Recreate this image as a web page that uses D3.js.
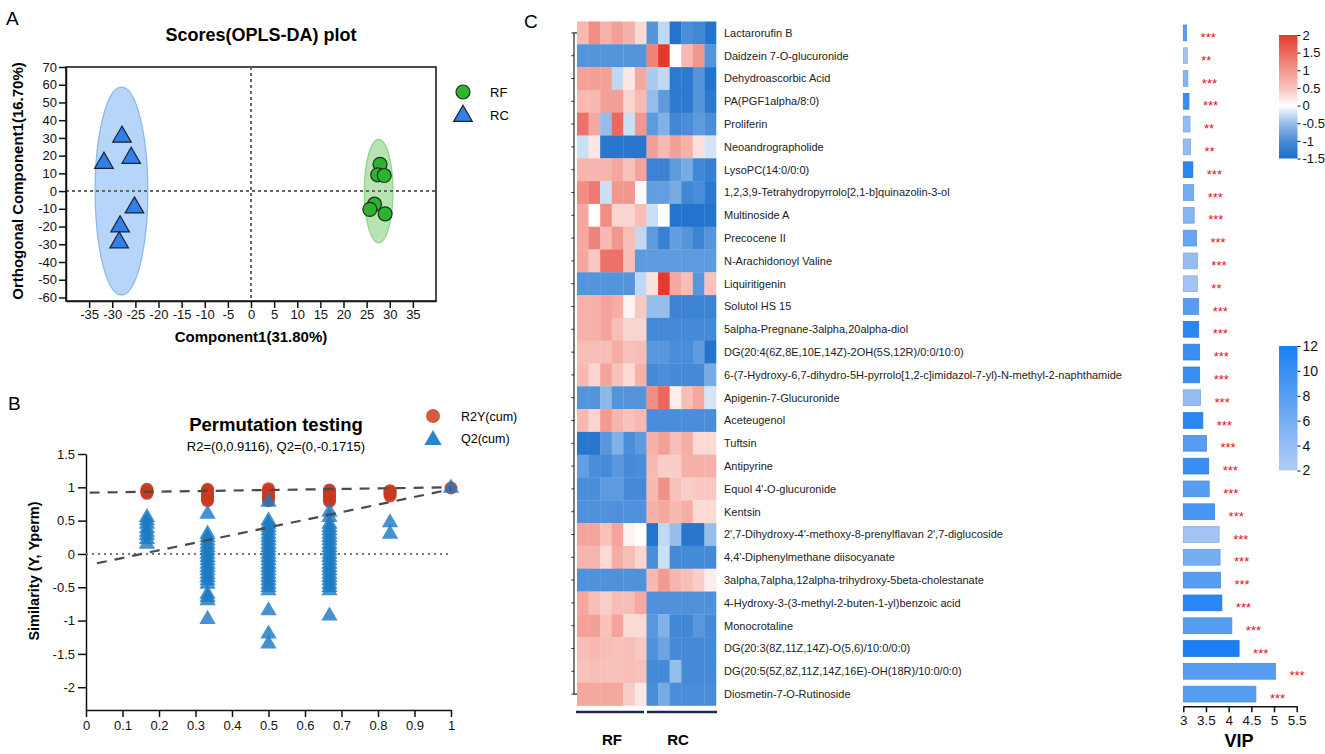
<!DOCTYPE html>
<html><head><meta charset="utf-8">
<script src="https://cdn.jsdelivr.net/npm/d3@7"></script>
<style>body{margin:0;background:#fff} svg{font-family:Arial,'Liberation Sans',sans-serif}</style>
</head><body><svg id="c" width="1325" height="754"></svg>
<script>
// ---------- Panel A data (OPLS-DA scores) ----------
const groupNames = ["RF", "RC"];
const rfX = [27.9, 27.4, 28.8, 26.7, 25.7, 29.0];
const rfY = [15.1, 9.2, 8.8, -7.4, -10.3, -12.8];
const rcX = [-27.9, -25.9, -31.8, -25.2, -28.3, -28.5];
const rcY = [30.6, 18.7, 15.9, -9.3, -20.0, -29.0];
const rfEllipse = [27.6, 0, 3.1, 29.2];   // cx, cy, rx, ry (data units)
const rcEllipse = [-28.0, 0, 5.7, 58.6];
const xTicksA = [-35, -30, -25, -20, -15, -10, -5, 0, 5, 10, 15, 20, 25, 30, 35];
const yTicksA = [70, 60, 50, 40, 30, 20, 10, 0, -10, -20, -30, -40, -50, -60];

// ---------- Panel B data (permutation test) ----------
const permX = [0.167, 0.333, 0.5, 0.667, 0.833, 1];
const r2yPerm = [
  [0.91, 0.93, 0.95, 0.97],
  [0.80, 0.83, 0.86, 0.89, 0.92, 0.95, 0.97],
  [0.80, 0.84, 0.88, 0.92, 0.95, 0.98],
  [0.79, 0.82, 0.85, 0.88, 0.91, 0.94, 0.96],
  [0.87, 0.90, 0.93, 0.95],
  [0.99]
];
const q2Perm = [
  [0.55, 0.50, 0.45, 0.38, 0.33, 0.28, 0.22, 0.15],
  [0.60, 0.30, 0.25, 0.20, 0.15, 0.10, 0.05, 0.00, -0.05, -0.10, -0.15, -0.20, -0.25, -0.30, -0.35, -0.40, -0.45, -0.60, -0.65, -0.70, -0.98],
  [0.78, 0.50, 0.45, 0.40, 0.35, 0.30, 0.25, 0.20, 0.15, 0.10, 0.05, 0.00, -0.05, -0.10, -0.15, -0.20, -0.25, -0.30, -0.35, -0.40, -0.45, -0.50, -0.55, -0.85, -1.20, -1.35],
  [0.63, 0.55, 0.45, 0.40, 0.35, 0.30, 0.25, 0.20, 0.15, 0.10, 0.05, 0.00, -0.05, -0.10, -0.15, -0.20, -0.25, -0.30, -0.35, -0.40, -0.45, -0.50, -0.55, -0.93],
  [0.47, 0.30],
  [0.99]
];
const r2Line = [[0.01, 0.92], [1, 1.0]];
const q2Line = [[0.03, -0.14], [1, 0.97]];
const xTicksB = [0, 0.1, 0.2, 0.3, 0.4, 0.5, 0.6, 0.7, 0.8, 0.9, 1];
const yTicksB = [1.5, 1, 0.5, 0, -0.5, -1, -1.5, -2];

// ---------- Panel C data (heatmap + VIP) ----------
const metabolites = [
  "Lactarorufin B", "Daidzein 7-O-glucuronide", "Dehydroascorbic Acid", "PA(PGF1alpha/8:0)",
  "Proliferin", "Neoandrographolide", "LysoPC(14:0/0:0)",
  "1,2,3,9-Tetrahydropyrrolo[2,1-b]quinazolin-3-ol", "Multinoside A", "Precocene II",
  "N-Arachidonoyl Valine", "Liquiritigenin", "Solutol HS 15", "5alpha-Pregnane-3alpha,20alpha-diol",
  "DG(20:4(6Z,8E,10E,14Z)-2OH(5S,12R)/0:0/10:0)",
  "6-(7-Hydroxy-6,7-dihydro-5H-pyrrolo[1,2-c]imidazol-7-yl)-N-methyl-2-naphthamide",
  "Apigenin-7-Glucuronide", "Aceteugenol", "Tuftsin", "Antipyrine", "Equol 4'-O-glucuronide",
  "Kentsin", "2',7-Dihydroxy-4'-methoxy-8-prenylflavan 2',7-diglucoside",
  "4,4'-Diphenylmethane diisocyanate", "3alpha,7alpha,12alpha-trihydroxy-5beta-cholestanate",
  "4-Hydroxy-3-(3-methyl-2-buten-1-yl)benzoic acid", "Monocrotaline",
  "DG(20:3(8Z,11Z,14Z)-O(5,6)/10:0/0:0)", "DG(20:5(5Z,8Z,11Z,14Z,16E)-OH(18R)/10:0/0:0)",
  "Diosmetin-7-O-Rutinoside"
];
const samples = ["RF1","RF2","RF3","RF4","RF5","RF6","RC1","RC2","RC3","RC4","RC5","RC6"];
const heatValues = [
  [0.6,1.1,0.7,0.9,0.7,0.3,-0.9,-0.3,-1.4,-1.0,-1.1,-1.4],
  [-0.9,-0.9,-0.9,-0.9,-0.9,-0.9,1.2,2.0,0,0.6,1.0,-0.9],
  [0.9,0.9,0.9,-0.3,0.2,0.8,-0.4,-0.3,-1.3,-1.3,-0.9,-1.4],
  [0.6,0.6,0.9,0.9,0.35,0.6,-0.5,-0.8,-1.3,-1.3,-0.9,-1.3],
  [1.4,0.8,-0.5,1.5,-0.25,1.0,-0.8,-0.6,-1.1,-1.0,-0.8,-1.0],
  [-0.25,0.2,-1.35,-1.35,-1.35,-1.35,0.9,0.6,0.9,0.7,0.25,-0.2],
  [0.65,0.65,0.65,0.8,0.5,0.85,-1.15,-1.15,-0.8,-0.65,-1.1,-1.2],
  [1.1,1.3,-0.25,1.0,1.0,0.05,-0.75,-0.75,-0.65,-1.1,-1.0,-1.3],
  [0.8,0,1.1,0.35,0.35,0.55,-0.25,0,-1.4,-1.4,-1.4,-1.4],
  [0.8,1.2,0.6,1.0,0.55,-0.3,-0.8,-1.2,-0.75,-0.9,-1.15,-0.9],
  [0.8,0.45,1.4,1.4,0.55,-0.8,-0.8,-0.8,-0.8,-0.8,-0.8,-0.8],
  [-0.9,-0.9,-0.9,-0.9,-0.9,-0.3,0.25,2.0,0.8,0.55,-0.85,0.5],
  [0.7,0.7,0.85,0.75,0.1,0.45,-0.5,-0.5,-1.15,-1.15,-1.15,-1.15],
  [0.7,0.7,0.85,0.55,0.35,0.35,-1.05,-1.05,-1.05,-1.05,-1.05,-1.05],
  [0.55,0.55,0.55,0.75,0.5,0.55,-0.85,-0.85,-1.0,-1.0,-0.8,-1.4],
  [0.6,0.35,0.85,0.5,0.3,0.7,-1.05,-1.0,-1.05,-1.05,-1.05,-0.65],
  [-0.9,-0.9,-0.55,-0.9,-0.9,-0.9,1.1,1.5,0.15,0.55,0.8,-0.2],
  [0.6,0.35,0.95,0.65,0.5,0.6,-1.0,-1.0,-1.0,-1.0,-1.0,-1.0],
  [-1.35,-1.35,-0.85,-0.6,-1.0,-0.8,0.7,0.9,0.55,0.75,0.3,0.3],
  [-0.75,-1.0,-1.05,-0.85,-1.05,-1.0,0.6,0.4,0.4,0.7,0.7,0.7],
  [-1.0,-1.0,-0.8,-0.8,-1.05,-1.05,0.6,1.05,0.5,0.4,0.45,0.45],
  [-0.95,-0.95,-0.95,-0.95,-0.95,-0.95,0.7,0.8,0.6,0.75,0.3,0.3],
  [0.85,0.85,0.5,0.85,0.1,0,-1.4,-0.3,-0.5,-1.35,-1.35,-0.5],
  [0.65,0.65,0.3,0.75,0.55,0.35,-1.0,-0.25,-1.05,-1.05,-1.05,-1.05],
  [-0.95,-0.95,-0.95,-0.95,-0.95,-0.95,0.6,0.95,0.65,0.55,0.4,0.15],
  [0.8,0.55,0.4,0.55,0.55,0.8,-0.95,-0.95,-0.95,-0.95,-0.95,-0.95],
  [0.9,0.9,0.5,0.85,0.3,0.3,-0.85,-0.6,-1.1,-1.1,-0.85,-1.05],
  [0.55,0.6,0.55,0.5,0.55,0.45,-0.95,-0.7,-1.05,-1.05,-1.05,-1.05],
  [0.5,0.55,0.5,0.5,0.55,0.5,-1.05,-1.05,-0.5,-1.05,-1.05,-1.05],
  [0.8,0.8,0.8,0.8,0.4,0.2,-1.0,-0.65,-1.0,-1.0,-1.0,-1.0]
];
const vipValues = [3.073,3.088,3.10,3.125,3.147,3.16,3.21,3.23,3.24,3.29,3.31,3.31,3.34,3.34,3.36,3.36,
  3.38,3.43,3.51,3.56,3.57,3.69,3.79,3.81,3.82,3.85,4.07,4.23,5.03,4.60];
const vipColorValues = [8,3,5,10,4,4,11,6,5,7,4,3,8,11,10,10,4,11,8,10,8,9,3,6,8,11,8,12,8,8];
const significance = ["***","**","***","***","**","**","***","***","***","***","***","**",
  "***","***","***","***","***","***","***","***","***","***","***","***","***","***","***","***","***","***"];
const vipTicks = [3, 3.5, 4, 4.5, 5, 5.5];
const heatLegendTicks = [2, 1.5, 1, 0.5, 0, -0.5, -1, -1.5];
const vipLegendTicks = [12, 10, 8, 6, 4, 2];

// ---------- drawing ----------
const svg = d3.select("#c");
const FONT = "Arial,'Liberation Sans',sans-serif";
function styleAxis(g, fs) {
  g.selectAll("path,line").attr("stroke", "#111").attr("stroke-width", 1.5);
  g.selectAll("text").attr("font-size", fs).attr("fill", "#111").attr("font-family", FONT);
}
const tri = s => d3.symbol(d3.symbolTriangle, s)();
const plain = d => String(d);

// Panel letters
svg.append("text").attr("x", 6).attr("y", 25).attr("font-size", 19).text("A");
svg.append("text").attr("x", 8).attr("y", 410).attr("font-size", 19).text("B");
svg.append("text").attr("x", 524).attr("y", 28).attr("font-size", 19).text("C");

// ===== Panel A =====
const xA = d3.scaleLinear().domain([-40, 40]).range([66, 436]);
const yA = d3.scaleLinear().domain([-62, 70]).range([301, 67]);
svg.append("text").attr("x", 261).attr("y", 41).attr("text-anchor", "middle")
  .attr("font-size", 18).attr("font-weight", "bold").text("Scores(OPLS-DA) plot");
const gA = svg.append("g");
gA.append("rect").attr("x", xA(-40)).attr("y", yA(70)).attr("width", xA(40) - xA(-40))
  .attr("height", yA(-62) - yA(70)).attr("fill", "none").attr("stroke", "#111").attr("stroke-width", 1.5);
[[rcEllipse, "#b6d5f8", "#86b7ee"], [rfEllipse, "#b7e4b2", "#8dd487"]].forEach(([e, f, s]) => {
  gA.append("ellipse").attr("cx", xA(e[0])).attr("cy", yA(e[1]))
    .attr("rx", xA(e[0] + e[2]) - xA(e[0])).attr("ry", yA(e[1]) - yA(e[1] + e[3]))
    .attr("fill", f).attr("stroke", s).attr("stroke-width", 1.2);
});
gA.append("line").attr("x1", xA(-40)).attr("x2", xA(40)).attr("y1", yA(0)).attr("y2", yA(0))
  .attr("stroke", "#666").attr("stroke-width", 2).attr("stroke-dasharray", "3,3");
gA.append("line").attr("x1", xA(0)).attr("x2", xA(0)).attr("y1", yA(70)).attr("y2", yA(-62))
  .attr("stroke", "#666").attr("stroke-width", 2).attr("stroke-dasharray", "3,3");
gA.append("g").attr("transform", `translate(${xA(-40)},0)`)
  .call(d3.axisLeft(yA).tickValues(yTicksA).tickSize(7).tickSizeOuter(0).tickPadding(2).tickFormat(plain))
  .call(g => styleAxis(g, 13));
gA.append("g").attr("transform", `translate(0,${yA(-62)})`)
  .call(d3.axisBottom(xA).tickValues(xTicksA).tickSize(7).tickSizeOuter(0).tickPadding(2).tickFormat(plain))
  .call(g => styleAxis(g, 13));
gA.selectAll(".rc").data(rcX.map((x, i) => [x, rcY[i]])).enter().append("path")
  .attr("d", tri(150)).attr("transform", d => `translate(${xA(d[0])},${yA(d[1])})`)
  .attr("fill", "#2f80e8").attr("stroke", "#1b2238").attr("stroke-width", 1.2);
gA.selectAll(".rf").data(rfX.map((x, i) => [x, rfY[i]])).enter().append("circle")
  .attr("cx", d => xA(d[0])).attr("cy", d => yA(d[1])).attr("r", 7)
  .attr("fill", "#2db32d").attr("stroke", "#1e2e1e").attr("stroke-width", 1.2);
svg.append("text").attr("transform", "translate(23,181) rotate(-90)").attr("text-anchor", "middle")
  .attr("font-size", 15).attr("font-weight", "bold").text("Orthogonal Component1(16.70%)");
svg.append("text").attr("x", 251).attr("y", 342).attr("text-anchor", "middle")
  .attr("font-size", 15).attr("font-weight", "bold").text("Component1(31.80%)");
svg.append("circle").attr("cx", 463).attr("cy", 92).attr("r", 7).attr("fill", "#2db32d")
  .attr("stroke", "#1e2e1e").attr("stroke-width", 1.2);
svg.append("path").attr("d", tri(150)).attr("transform", "translate(463,116)")
  .attr("fill", "#2f80e8").attr("stroke", "#1b2238").attr("stroke-width", 1.2);
svg.append("text").attr("x", 490).attr("y", 96.5).attr("font-size", 13).text(groupNames[0]);
svg.append("text").attr("x", 490).attr("y", 119.5).attr("font-size", 13).text(groupNames[1]);

// ===== Panel B =====
const xB = d3.scaleLinear().domain([0, 1]).range([86, 451]);
const yB = d3.scaleLinear().domain([-2.342, 1.5]).range([710, 454]);
svg.append("text").attr("x", 276).attr("y", 431).attr("text-anchor", "middle")
  .attr("font-size", 18.5).attr("font-weight", "bold").text("Permutation testing");
svg.append("text").attr("x", 276).attr("y", 450.5).attr("text-anchor", "middle")
  .attr("font-size", 13).text("R2=(0,0.9116), Q2=(0,-0.1715)");
const gB = svg.append("g");
gB.append("g").attr("transform", `translate(${xB(0)},0)`)
  .call(d3.axisLeft(yB).tickValues(yTicksB).tickSize(8).tickSizeOuter(0).tickPadding(3).tickFormat(plain))
  .call(g => styleAxis(g, 13));
gB.append("g").attr("transform", `translate(0,${yB(-2.342)})`)
  .call(d3.axisBottom(xB).tickValues(xTicksB).tickSize(7).tickSizeOuter(0).tickPadding(4).tickFormat(plain))
  .call(g => styleAxis(g, 13));
gB.append("line").attr("x1", xB(0)).attr("x2", xB(1)).attr("y1", yB(0)).attr("y2", yB(0))
  .attr("stroke", "#777").attr("stroke-width", 2).attr("stroke-dasharray", "2,4");
const r2Pts = [], q2Pts = [];
permX.forEach((x, i) => {
  r2yPerm[i].forEach(v => r2Pts.push([x, v]));
  q2Perm[i].forEach(v => q2Pts.push([x, v]));
});
gB.selectAll(".r2").data(r2Pts).enter().append("circle")
  .attr("cx", d => xB(d[0])).attr("cy", d => yB(d[1])).attr("r", 6.5)
  .attr("fill", "#c9381f").attr("fill-opacity", 0.9);
gB.selectAll(".q2").data(q2Pts).enter().append("path")
  .attr("d", tri(115)).attr("transform", d => `translate(${xB(d[0])},${yB(d[1])})`)
  .attr("fill", "#1c7ac3").attr("fill-opacity", 0.82);
const lineB = d3.line().x(d => xB(d[0])).y(d => yB(d[1]));
[r2Line, q2Line].forEach(l => gB.append("path").attr("d", lineB(l)).attr("fill", "none")
  .attr("stroke", "#4a4a4a").attr("stroke-width", 2.2).attr("stroke-dasharray", "10,8"));
svg.append("text").attr("transform", "translate(39,571) rotate(-90)").attr("text-anchor", "middle")
  .attr("font-size", 14.5).attr("font-weight", "bold").text("Similarity (Y, Yperm)");
svg.append("circle").attr("cx", 433).attr("cy", 416).attr("r", 7).attr("fill", "#d45a42");
svg.append("path").attr("d", tri(130)).attr("transform", "translate(433,440)").attr("fill", "#2886cc");
svg.append("text").attr("x", 461).attr("y", 420.5).attr("font-size", 12.5).text("R2Y(cum)");
svg.append("text").attr("x", 461).attr("y", 442.5).attr("font-size", 12.5).text("Q2(cum)");

// ===== Panel C =====
const heatColor = d3.scaleLinear().domain([-1.5, -0.75, 0, 0.5, 1, 2])
  .range(["#1a6cc9", "#629ee0", "#ffffff", "#f8c2bb", "#f2978e", "#e6392e"]);
const xH = d3.scaleBand().domain(samples).range([577, 716]);
const yH = d3.scaleBand().domain(metabolites).range([21.5, 705.5]);
const gC = svg.append("g");
heatValues.forEach((row, i) => {
  gC.selectAll(null).data(row).enter().append("rect")
    .attr("x", (d, j) => xH(samples[j])).attr("y", yH(metabolites[i]))
    .attr("width", xH.bandwidth() + 0.3).attr("height", yH.bandwidth() + 0.3)
    .attr("fill", d => heatColor(d));
});
const yc = m => yH(m) + yH.bandwidth() / 2;
const bx = 574;
gC.append("line").attr("x1", bx).attr("x2", bx).attr("y1", yc(metabolites[0])).attr("y2", yc(metabolites[29]))
  .attr("stroke", "#222").attr("stroke-width", 1.2);
gC.append("line").attr("x1", bx).attr("x2", 577).attr("y1", yc(metabolites[0])).attr("y2", yc(metabolites[0]))
  .attr("stroke", "#222").attr("stroke-width", 1.2);
gC.append("line").attr("x1", bx).attr("x2", 577).attr("y1", yc(metabolites[29])).attr("y2", yc(metabolites[29]))
  .attr("stroke", "#222").attr("stroke-width", 1.2);
gC.selectAll(".tk").data(metabolites).enter().append("line")
  .attr("x1", bx - 2.5).attr("x2", bx).attr("y1", d => yc(d)).attr("y2", d => yc(d))
  .attr("stroke", "#222").attr("stroke-width", 1);
gC.selectAll(".lab").data(metabolites).enter().append("text")
  .attr("x", 724).attr("y", d => yc(d)).attr("dy", "0.35em").attr("font-size", 11)
  .attr("fill", "#222").text(d => d);
gC.append("line").attr("x1", 576).attr("x2", 644).attr("y1", 712).attr("y2", 712)
  .attr("stroke", "#1c2951").attr("stroke-width", 2.5);
gC.append("line").attr("x1", 647).attr("x2", 717).attr("y1", 712).attr("y2", 712)
  .attr("stroke", "#1c2951").attr("stroke-width", 2.5);
gC.append("text").attr("x", 612).attr("y", 745).attr("text-anchor", "middle")
  .attr("font-size", 15).attr("font-weight", "bold").text(groupNames[0]);
gC.append("text").attr("x", 678).attr("y", 745).attr("text-anchor", "middle")
  .attr("font-size", 15).attr("font-weight", "bold").text(groupNames[1]);

// VIP bars
const vipColor = d3.scaleLinear().domain([2, 12]).range(["#b2cdf5", "#1a7ff2"]);
const xV = d3.scaleLinear().domain([3, 5.5]).range([1183.3, 1296.7]);
const yV = d3.scaleBand().domain(metabolites).range([21.5, 705.5]).paddingInner(0.31).paddingOuter(0.155);
gC.selectAll(".vb").data(metabolites).enter().append("rect")
  .attr("x", xV(3)).attr("y", d => yV(d))
  .attr("width", (d, i) => xV(vipValues[i]) - xV(3)).attr("height", yV.bandwidth())
  .attr("fill", (d, i) => vipColor(vipColorValues[i]))
  .attr("stroke", (d, i) => d3.color(vipColor(vipColorValues[i])).darker(0.35)).attr("stroke-width", 0.8);
gC.selectAll(".st").data(metabolites).enter().append("text")
  .attr("x", (d, i) => xV(vipValues[i]) + 14).attr("y", d => yc(d) + 9)
  .attr("font-size", 13).attr("fill", "#e3121b").text((d, i) => significance[i]);
gC.append("g").attr("transform", "translate(0,706.3)")
  .call(d3.axisBottom(xV).tickValues(vipTicks).tickSize(6).tickSizeOuter(0).tickPadding(3).tickFormat(plain))
  .call(g => styleAxis(g, 13.5));
gC.append("text").attr("x", 1239).attr("y", 747).attr("text-anchor", "middle")
  .attr("font-size", 18).attr("font-weight", "bold").text("VIP");

// color legends
const defs = svg.append("defs");
const g1 = defs.append("linearGradient").attr("id", "gHeat").attr("x1", 0).attr("x2", 0).attr("y1", 1).attr("y2", 0);
[-1.5, -1, -0.5, 0, 0.25, 0.5, 1, 1.5, 2].forEach(v => g1.append("stop")
  .attr("offset", (v + 1.5) / 3.5).attr("stop-color", heatColor(v)));
const yHL = d3.scaleLinear().domain([-1.5, 2]).range([158.5, 35]);
svg.append("rect").attr("x", 1279).attr("y", yHL(2)).attr("width", 18.5).attr("height", yHL(-1.5) - yHL(2))
  .attr("fill", "url(#gHeat)");
svg.append("g").attr("transform", "translate(1297.5,0)")
  .call(d3.axisRight(yHL).tickValues(heatLegendTicks).tickSize(3).tickSizeOuter(0).tickPadding(2).tickFormat(plain))
  .call(g => { styleAxis(g, 13); g.select(".domain").remove(); g.selectAll("line").attr("stroke-width", 1); });

const g2 = defs.append("linearGradient").attr("id", "gVip").attr("x1", 0).attr("x2", 0).attr("y1", 1).attr("y2", 0);
[2, 7, 12].forEach(v => g2.append("stop").attr("offset", (v - 2) / 10).attr("stop-color", vipColor(v)));
const yVL = d3.scaleLinear().domain([2, 12]).range([470.5, 346]);
svg.append("rect").attr("x", 1279).attr("y", yVL(12)).attr("width", 18.5).attr("height", yVL(2) - yVL(12))
  .attr("fill", "url(#gVip)");
svg.append("g").attr("transform", "translate(1297.5,0)")
  .call(d3.axisRight(yVL).tickValues(vipLegendTicks).tickSize(3).tickSizeOuter(0).tickPadding(2))
  .call(g => { styleAxis(g, 14); g.select(".domain").remove(); g.selectAll("line").attr("stroke-width", 1); });
</script></body></html>
